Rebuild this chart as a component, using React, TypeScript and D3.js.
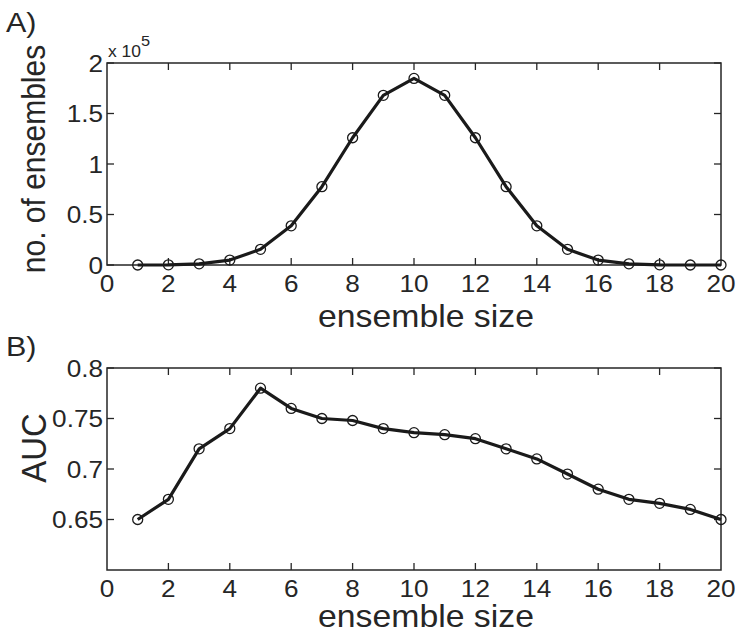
import React from 'react';
import * as d3 from 'd3';

// ensemble size 1..20
const sizes = [1, 2, 3, 4, 5, 6, 7, 8, 9, 10, 11, 12, 13, 14, 15, 16, 17, 18, 19, 20];
// A) no. of ensembles per size
const counts = [20, 190, 1140, 4845, 15504, 38760, 77520, 125970, 167960, 184756,
	167960, 125970, 77520, 38760, 15504, 4845, 1140, 190, 20, 1];
// B) AUC per size
const auc = [0.65, 0.67, 0.72, 0.74, 0.78, 0.76, 0.75, 0.748, 0.74, 0.736,
	0.734, 0.73, 0.72, 0.71, 0.695, 0.68, 0.67, 0.666, 0.66, 0.65];

const xTicks = [0, 2, 4, 6, 8, 10, 12, 14, 16, 18, 20];
const countTicks = [0, 50000, 100000, 150000, 200000];
const countTickLabels = ['0', '0.5', '1', '1.5', '2'];
const aucTicks = [0.65, 0.7, 0.75, 0.8];
const aucTickLabels = ['0.65', '0.7', '0.75', '0.8'];

const FONT = 'Liberation Sans, Arial, Helvetica, sans-serif';
const INK = '#262626';
const TICK = 7;
const SX = 1.09; // text in the figure is a bit wide

const x = d3.scaleLinear().domain([0, 20]).range([107, 721]);

// text placed at (tx, ty), stretched horizontally
const T = ({ tx, ty, rot = 0, children, ...rest }) => (
	<text transform={`translate(${tx} ${ty}) scale(${SX} 1)${rot ? ` rotate(${rot})` : ''}`} fill={INK} {...rest}>
		{children}
	</text>
);

const Panel = ({ yScale, values, yTicks, yLabels, xLabelY, yLabel, yLabelPos, yLabelSize }) => {
	const [x0, x1] = x.range();
	const [y0, y1] = yScale.range(); // bottom, top
	const line = d3.line()
		.x((d, i) => x(sizes[i]))
		.y(d => yScale(d));
	return (
		<g>
			{/* ticks, inward on all four sides */}
			{xTicks.slice(1, -1).map(t => (
				<g key={'xt' + t}>
					<line x1={x(t)} x2={x(t)} y1={y0} y2={y0 - TICK} stroke={INK} strokeWidth={1.3} />
					<line x1={x(t)} x2={x(t)} y1={y1} y2={y1 + TICK} stroke={INK} strokeWidth={1.3} />
				</g>
			))}
			{yTicks.map(t => (
				<g key={'yt' + t}>
					<line x1={x0} x2={x0 + TICK} y1={yScale(t)} y2={yScale(t)} stroke={INK} strokeWidth={1.3} />
					<line x1={x1} x2={x1 - TICK} y1={yScale(t)} y2={yScale(t)} stroke={INK} strokeWidth={1.3} />
				</g>
			))}
			<rect x={x0} y={y1} width={x1 - x0} height={y0 - y1} fill='none' stroke={INK} strokeWidth={1.5} />

			{xTicks.map(t => (
				<T key={'xl' + t} tx={x(t)} ty={y0 + 27} textAnchor='middle' fontSize={24}>{t}</T>
			))}
			{yTicks.map((t, i) => (
				<T key={'yl' + t} tx={x0 - 4} ty={yScale(t)} dy='0.36em' textAnchor='end' fontSize={24}>{yLabels[i]}</T>
			))}

			<T tx={(x0 + x1) / 2 + 12} ty={xLabelY} textAnchor='middle' fontSize={31}>ensemble size</T>
			<T tx={yLabelPos[0]} ty={yLabelPos[1]} rot={-90} textAnchor='middle' fontSize={yLabelSize}>{yLabel}</T>

			<path d={line(values)} fill='none' stroke='#1a1a1a' strokeWidth={3.2} strokeLinejoin='round' />
			{values.map((v, i) => (
				<circle key={'m' + i} cx={x(sizes[i])} cy={yScale(v)} r={5} fill='none' stroke='#1a1a1a' strokeWidth={1.3} />
			))}
		</g>
	);
};

export default function App() {
	const yTop = d3.scaleLinear().domain([0, 200000]).range([265, 63]);
	const yBottom = d3.scaleLinear().domain([0.6, 0.8]).range([570, 368]);
	return (
		<svg width={741} height={638} style={{ position: 'absolute', left: 0, top: 0, background: '#fff', fontFamily: FONT }}>
			<T tx={6} ty={32} fontSize={28}>A)</T>
			<T tx={6} ty={356} fontSize={28}>B)</T>

			<T tx={108} ty={57} fontSize={16}>x 10<tspan dy={-11} fontSize={15}>5</tspan></T>

			<Panel
				yScale={yTop}
				values={counts}
				yTicks={countTicks}
				yLabels={countTickLabels}
				xLabelY={327}
				yLabel='no. of ensembles'
				yLabelPos={[45, 159]}
				yLabelSize={30}
			/>
			<Panel
				yScale={yBottom}
				values={auc}
				yTicks={aucTicks}
				yLabels={aucTickLabels}
				xLabelY={627}
				yLabel='AUC'
				yLabelPos={[46, 448]}
				yLabelSize={33}
			/>
		</svg>
	);
}
